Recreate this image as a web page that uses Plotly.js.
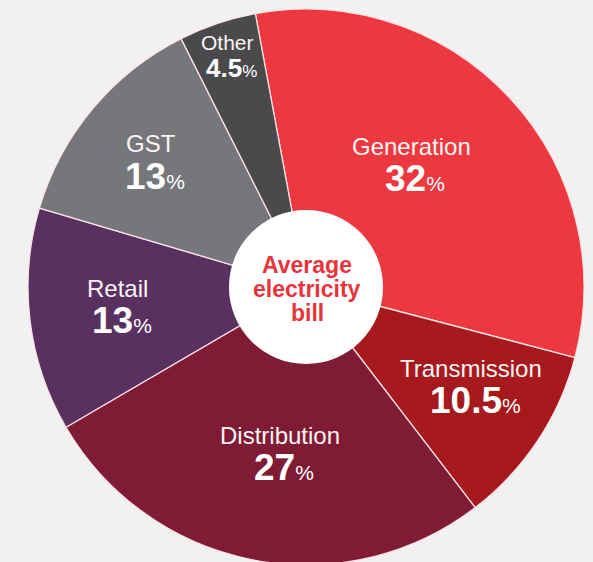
<!DOCTYPE html>
<html><head><meta charset="utf-8">
<script src="https://cdn.plot.ly/plotly-3.0.1.min.js"></script>
<style>html,body{margin:0;padding:0;background:#f1f1f1;overflow:hidden;width:593px;height:562px}</style>
</head><body><div id="chart" style="width:593px;height:570px"></div>
<script>
// ---- data ----
const categories = ['Generation', 'Transmission', 'Distribution', 'Retail', 'GST', 'Other'];
const shares = [32, 10.5, 27, 13, 13, 4.5];
const valueLabels = ['32', '10.5', '27', '13', '13', '4.5'];
const centerLines = ['Average', 'electricity', 'bill'];

// ---- styles / layout config ----
const sliceColors = ['#ee3840', '#a6191c', '#7f1b35', '#593161', '#76777a', '#4a4a4d'];
const W = 593, H = 570;
const CX = 306, CY = 287, R = 278, HOLE_R = 77;
const ROTATION = -10.5;
const labelRadius = [0.587, 0.69, 0.60, 0.68, 0.72, 0.88];
const labelNudgeDeg = [-7, -3, -2, 1.7, -0.5, 0];
const labelHalfGap = [16, 16, 16, 16, 16.5, 12.5];
const nameSize = [24, 24, 24, 24, 24, 21];
const numSize = [37, 37, 37, 37, 37, 26];
const pctSize = [21, 21, 21, 21, 21, 17];
const FONT = 'Liberation Sans, Arial, sans-serif';

const px = x => x / W;
const py = y => (H - y) / H;

const mainTrace = {
  type: 'pie',
  labels: categories,
  values: shares,
  sort: false,
  direction: 'clockwise',
  rotation: ROTATION,
  marker: { colors: sliceColors, line: { color: 'rgba(255,228,232,0.95)', width: 1.3 } },
  textinfo: 'none',
  hoverinfo: 'label+percent',
  showlegend: false,
  domain: { x: [px(CX - R), px(CX + R)], y: [py(CY + R), py(CY - R)] }
};

const holeTrace = {
  type: 'pie',
  labels: ['hole'],
  values: [1],
  sort: false,
  marker: { colors: ['#ffffff'], line: { width: 0 } },
  textinfo: 'none',
  hoverinfo: 'skip',
  showlegend: false,
  domain: { x: [px(CX - HOLE_R), px(CX + HOLE_R)], y: [py(CY + HOLE_R), py(CY - HOLE_R)] }
};

const total = shares.reduce((a, b) => a + b, 0);
const annotations = [];
let cum = 0;
shares.forEach((v, i) => {
  const mid = (ROTATION + (cum + v / 2) / total * 360 + labelNudgeDeg[i]) * Math.PI / 180;
  cum += v;
  const ax = CX + R * labelRadius[i] * Math.sin(mid);
  const ay = CY - R * labelRadius[i] * Math.cos(mid);
  annotations.push({
    xref: 'paper', yref: 'paper', x: px(ax), y: py(ay - labelHalfGap[i]),
    xanchor: 'center', yanchor: 'middle', showarrow: false,
    text: categories[i],
    font: { family: FONT, size: nameSize[i], color: '#fbf4f4' }
  });
  annotations.push({
    xref: 'paper', yref: 'paper', x: px(ax + 4), y: py(ay + labelHalfGap[i]),
    xanchor: 'center', yanchor: 'middle', showarrow: false,
    text: '<b>' + valueLabels[i] + '</b><span style="font-size:' + pctSize[i] + 'px">%</span>',
    font: { family: FONT, size: numSize[i], color: '#ffffff' }
  });
});
centerLines.forEach((t, j) => {
  annotations.push({
    xref: 'paper', yref: 'paper', x: px(CX + 1), y: py(CY + 2 + (j - 1) * 24),
    xanchor: 'center', yanchor: 'middle', showarrow: false,
    text: '<b>' + t + '</b>',
    font: { family: FONT, size: 23, color: '#e8333d' }
  });
});

const layout = {
  width: W, height: H,
  margin: { l: 0, r: 0, t: 0, b: 0 },
  paper_bgcolor: '#f1f1f1',
  plot_bgcolor: '#f1f1f1',
  annotations: annotations
};

Plotly.newPlot('chart', [mainTrace, holeTrace], layout, { displayModeBar: false, staticPlot: true });
</script>
</body></html>
